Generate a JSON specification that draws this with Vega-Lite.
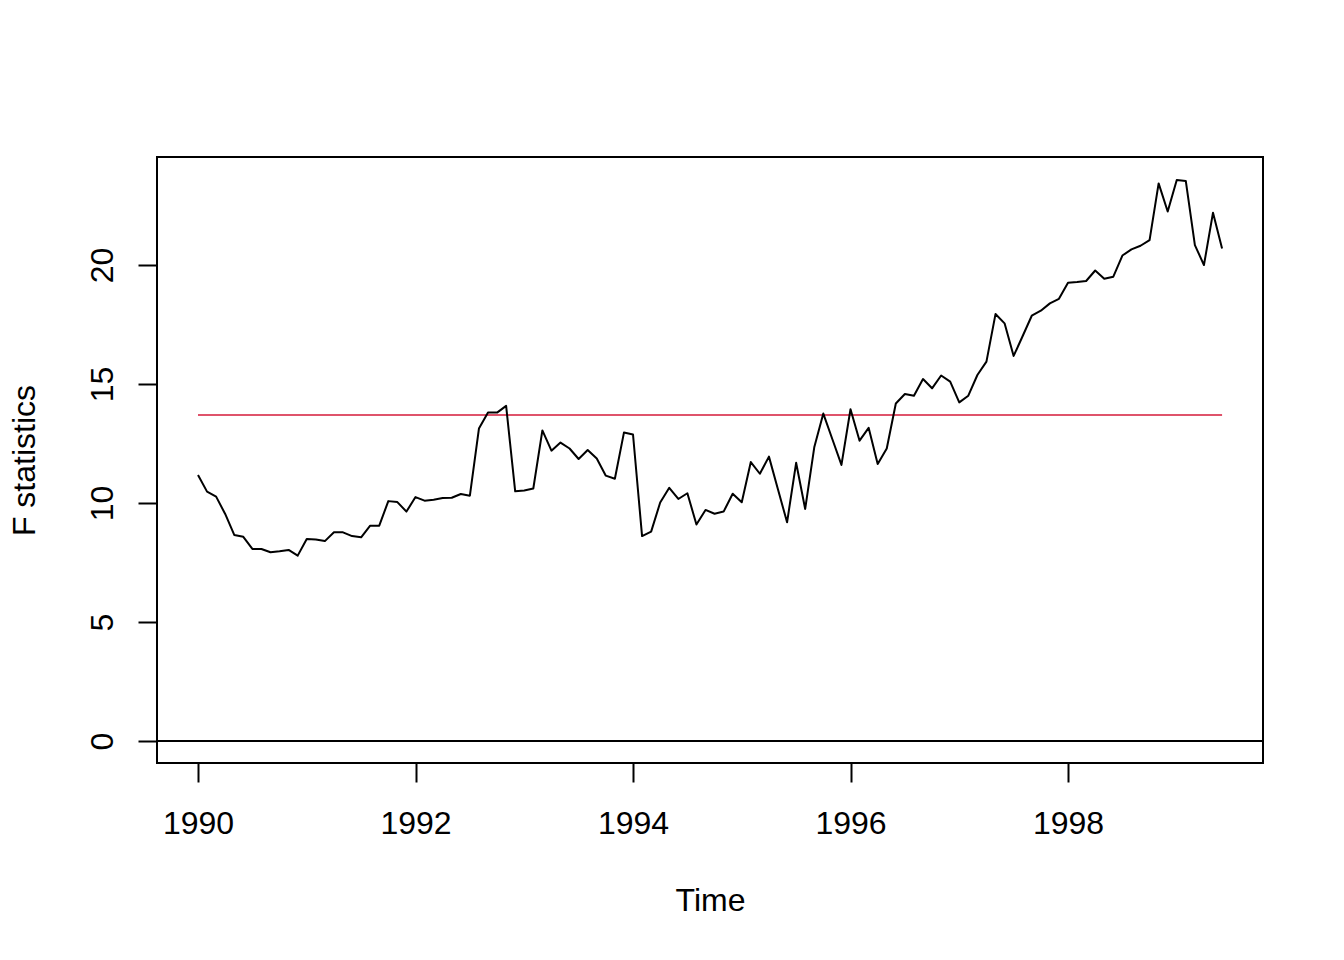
{
  "$schema": "https://vega.github.io/schema/vega-lite/v6.json",
  "width": 1106,
  "height": 606,
  "autosize": "none",
  "padding": {"left": 157, "top": 157, "right": 81, "bottom": 197},
  "background": "white",
  "config": {
    "view": {"stroke": "black", "strokeWidth": 2},
    "axis": {
      "grid": false,
      "labelFont": "Liberation Sans",
      "titleFont": "Liberation Sans",
      "labelFontSize": 32,
      "titleFontSize": 32,
      "titleFontWeight": "normal",
      "labelColor": "black",
      "titleColor": "black",
      "tickColor": "black",
      "tickWidth": 2,
      "tickSize": 19,
      "domain": false,
      "labelFlush": false,
      "labelOverlap": false
    }
  },
  "datasets": {
    "fstats": [
      {"t": 1990.0000, "f": 11.18}, {"t": 1990.0833, "f": 10.48}, {"t": 1990.1667, "f": 10.27},
      {"t": 1990.2500, "f": 9.54}, {"t": 1990.3333, "f": 8.66}, {"t": 1990.4167, "f": 8.58},
      {"t": 1990.5000, "f": 8.07}, {"t": 1990.5833, "f": 8.07}, {"t": 1990.6667, "f": 7.93},
      {"t": 1990.7500, "f": 7.97}, {"t": 1990.8333, "f": 8.03}, {"t": 1990.9167, "f": 7.79},
      {"t": 1991.0000, "f": 8.49}, {"t": 1991.0833, "f": 8.47}, {"t": 1991.1667, "f": 8.40},
      {"t": 1991.2500, "f": 8.77}, {"t": 1991.3333, "f": 8.77}, {"t": 1991.4167, "f": 8.61},
      {"t": 1991.5000, "f": 8.56}, {"t": 1991.5833, "f": 9.05}, {"t": 1991.6667, "f": 9.05},
      {"t": 1991.7500, "f": 10.08}, {"t": 1991.8333, "f": 10.04}, {"t": 1991.9167, "f": 9.64},
      {"t": 1992.0000, "f": 10.25}, {"t": 1992.0833, "f": 10.10}, {"t": 1992.1667, "f": 10.14},
      {"t": 1992.2500, "f": 10.21}, {"t": 1992.3333, "f": 10.22}, {"t": 1992.4167, "f": 10.38},
      {"t": 1992.5000, "f": 10.31}, {"t": 1992.5833, "f": 13.13}, {"t": 1992.6667, "f": 13.80},
      {"t": 1992.7500, "f": 13.80}, {"t": 1992.8333, "f": 14.08}, {"t": 1992.9167, "f": 10.49},
      {"t": 1993.0000, "f": 10.53}, {"t": 1993.0833, "f": 10.61}, {"t": 1993.1667, "f": 13.05},
      {"t": 1993.2500, "f": 12.20}, {"t": 1993.3333, "f": 12.54}, {"t": 1993.4167, "f": 12.29},
      {"t": 1993.5000, "f": 11.85}, {"t": 1993.5833, "f": 12.23}, {"t": 1993.6667, "f": 11.87},
      {"t": 1993.7500, "f": 11.15}, {"t": 1993.8333, "f": 11.02}, {"t": 1993.9167, "f": 12.96},
      {"t": 1994.0000, "f": 12.88}, {"t": 1994.0833, "f": 8.61}, {"t": 1994.1667, "f": 8.80},
      {"t": 1994.2500, "f": 10.02}, {"t": 1994.3333, "f": 10.64}, {"t": 1994.4167, "f": 10.17},
      {"t": 1994.5000, "f": 10.41}, {"t": 1994.5833, "f": 9.10}, {"t": 1994.6667, "f": 9.71},
      {"t": 1994.7500, "f": 9.55}, {"t": 1994.8333, "f": 9.64}, {"t": 1994.9167, "f": 10.39},
      {"t": 1995.0000, "f": 10.03}, {"t": 1995.0833, "f": 11.72}, {"t": 1995.1667, "f": 11.23},
      {"t": 1995.2500, "f": 11.95}, {"t": 1995.3333, "f": 10.57}, {"t": 1995.4167, "f": 9.19},
      {"t": 1995.5000, "f": 11.69}, {"t": 1995.5833, "f": 9.75}, {"t": 1995.6667, "f": 12.34},
      {"t": 1995.7500, "f": 13.76}, {"t": 1995.8333, "f": 12.68}, {"t": 1995.9167, "f": 11.60},
      {"t": 1996.0000, "f": 13.94}, {"t": 1996.0833, "f": 12.62}, {"t": 1996.1667, "f": 13.16},
      {"t": 1996.2500, "f": 11.64}, {"t": 1996.3333, "f": 12.29}, {"t": 1996.4167, "f": 14.18},
      {"t": 1996.5000, "f": 14.58}, {"t": 1996.5833, "f": 14.51}, {"t": 1996.6667, "f": 15.21},
      {"t": 1996.7500, "f": 14.82}, {"t": 1996.8333, "f": 15.36}, {"t": 1996.9167, "f": 15.10},
      {"t": 1997.0000, "f": 14.23}, {"t": 1997.0833, "f": 14.51}, {"t": 1997.1667, "f": 15.38},
      {"t": 1997.2500, "f": 15.94}, {"t": 1997.3333, "f": 17.94}, {"t": 1997.4167, "f": 17.55},
      {"t": 1997.5000, "f": 16.18}, {"t": 1997.5833, "f": 17.02}, {"t": 1997.6667, "f": 17.87},
      {"t": 1997.7500, "f": 18.08}, {"t": 1997.8333, "f": 18.39}, {"t": 1997.9167, "f": 18.58},
      {"t": 1998.0000, "f": 19.26}, {"t": 1998.0833, "f": 19.29}, {"t": 1998.1667, "f": 19.33},
      {"t": 1998.2500, "f": 19.77}, {"t": 1998.3333, "f": 19.42}, {"t": 1998.4167, "f": 19.51},
      {"t": 1998.5000, "f": 20.40}, {"t": 1998.5833, "f": 20.66}, {"t": 1998.6667, "f": 20.81},
      {"t": 1998.7500, "f": 21.05}, {"t": 1998.8333, "f": 23.43}, {"t": 1998.9167, "f": 22.25},
      {"t": 1999.0000, "f": 23.57}, {"t": 1999.0833, "f": 23.53}, {"t": 1999.1667, "f": 20.84},
      {"t": 1999.2500, "f": 20.00}, {"t": 1999.3333, "f": 22.20}, {"t": 1999.4167, "f": 20.70}
    ],
    "crit": [{"start": 1990, "end": 1999.4167, "value": 13.7}],
    "zero": [{"value": 0}]
  },
  "layer": [
    {
      "data": {"name": "zero"},
      "mark": {"type": "rule", "color": "black", "strokeWidth": 2},
      "encoding": {"y": {"field": "value", "type": "quantitative"}}
    },
    {
      "data": {"name": "crit"},
      "mark": {"type": "rule", "color": "#DF536B", "strokeWidth": 2},
      "encoding": {
        "x": {"field": "start", "type": "quantitative"},
        "x2": {"field": "end"},
        "y": {"field": "value", "type": "quantitative"}
      }
    },
    {
      "data": {"name": "fstats"},
      "mark": {"type": "line", "color": "black", "strokeWidth": 2, "strokeJoin": "round"},
      "encoding": {
        "x": {
          "field": "t",
          "type": "quantitative",
          "scale": {"domain": [1989.623, 1999.793], "nice": false, "zero": false},
          "axis": {
            "title": "Time",
            "values": [1990, 1992, 1994, 1996, 1998],
            "format": "d",
            "labelBaseline": "alphabetic",
            "labelPadding": 51,
            "titleBaseline": "alphabetic",
            "titleY": 147,
            "titleX": 553,
            "titleAnchor": "middle"
          }
        },
        "y": {
          "field": "f",
          "type": "quantitative",
          "scale": {"domain": [-0.924, 24.54], "nice": false, "zero": false},
          "axis": {
            "title": "F statistics",
            "values": [0, 5, 10, 15, 20],
            "labelAngle": -90,
            "labelAlign": "center",
            "labelBaseline": "alphabetic",
            "labelPadding": 26,
            "titleAngle": -90,
            "titleAlign": "center",
            "titleBaseline": "alphabetic",
            "titleX": -123,
            "titleY": 303
          }
        }
      }
    }
  ]
}
